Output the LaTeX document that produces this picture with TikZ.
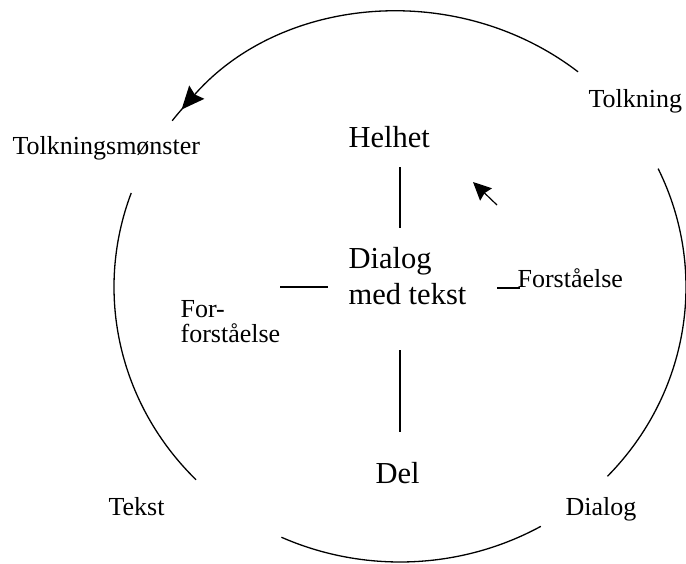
\documentclass[tikz,border=0pt]{standalone}
\usepackage{fontspec}
\setmainfont{Liberation Serif}
\usetikzlibrary{arrows.meta}
\begin{document}
\begin{tikzpicture}[x=1pt,y=-1pt,line width=1.2pt,
  lbl/.style={inner sep=0pt,anchor=base west,font=\fontsize{26}{30}\selectfont},
  biglbl/.style={inner sep=0pt,anchor=base west,font=\fontsize{30.5}{36}\selectfont},
  ringarc/.style={line width=1.3pt},
  bigtip/.style={-{Stealth[length=23pt,width=20pt,inset=3pt]}},
  smalltip/.style={-{Stealth[length=18pt,width=17pt,inset=2pt]}}]
\useasboundingbox (0,0) rectangle (686,563);

% centre of the interpretation cycle
\coordinate (c) at (400,287);

% the four arcs of the cycle, broken where the labels sit
\draw[ringarc,bigtip] (c) ++(-51.5:286 and 275)
  arc[start angle=-51.5,end angle=-139.8,x radius=286,y radius=275];
\draw[ringarc] (c) ++(-139.3:286 and 275)
  arc[start angle=-139.3,end angle=-142.8,x radius=286,y radius=275];
\draw[ringarc] (c) ++(-160:286 and 275)
  arc[start angle=-160,end angle=-224.5,x radius=286,y radius=275];
\draw[ringarc] (c) ++(-245.5:286 and 275)
  arc[start angle=-245.5,end angle=-299.5,x radius=286,y radius=275];
\draw[ringarc] (c) ++(43.5:286 and 275)
  arc[start angle=43.5,end angle=-25.5,x radius=286,y radius=275];

% labels round the cycle
\node[lbl] (tm)   at (12,154)  {Tolkningsmønster};
\node[lbl] (tolk) at (588,107) {Tolkning};
\node[lbl] (tek)  at (108,515) {Tekst};
\node[lbl] (dia)  at (565,515) {Dialog};

% inner cross
\node[biglbl] (helhet) at (348,147) {Helhet};
\node[biglbl] (dmt1)   at (348,268) {Dialog};
\node[biglbl] (dmt2)   at (348,304) {med tekst};
\node[biglbl] (del)    at (375,483) {Del};
\node[lbl] (forst)  at (517,287) {Forståelse};
\node[lbl] (ff1)    at (180,317) {For-};
\node[lbl] (ff2)    at (180,342) {forståelse};

\coordinate (vt1) at (400,167);
\coordinate (vt2) at (400,228);
\coordinate (vb1) at (400,350);
\coordinate (vb2) at (400,432);
\coordinate (hl1) at (280,287);
\coordinate (hl2) at (328,287);
\coordinate (hr1) at (497,288);
\coordinate (hr2) at (520,288);
\coordinate (at1) at (497,205);
\coordinate (at2) at (473,182);

\draw (vt1) -- (vt2);
\draw (vb1) -- (vb2);
\draw (hl1) -- (hl2);
\draw (hr1) -- (hr2);
\draw[smalltip] (at1) -- (at2);
\end{tikzpicture}
\end{document}
